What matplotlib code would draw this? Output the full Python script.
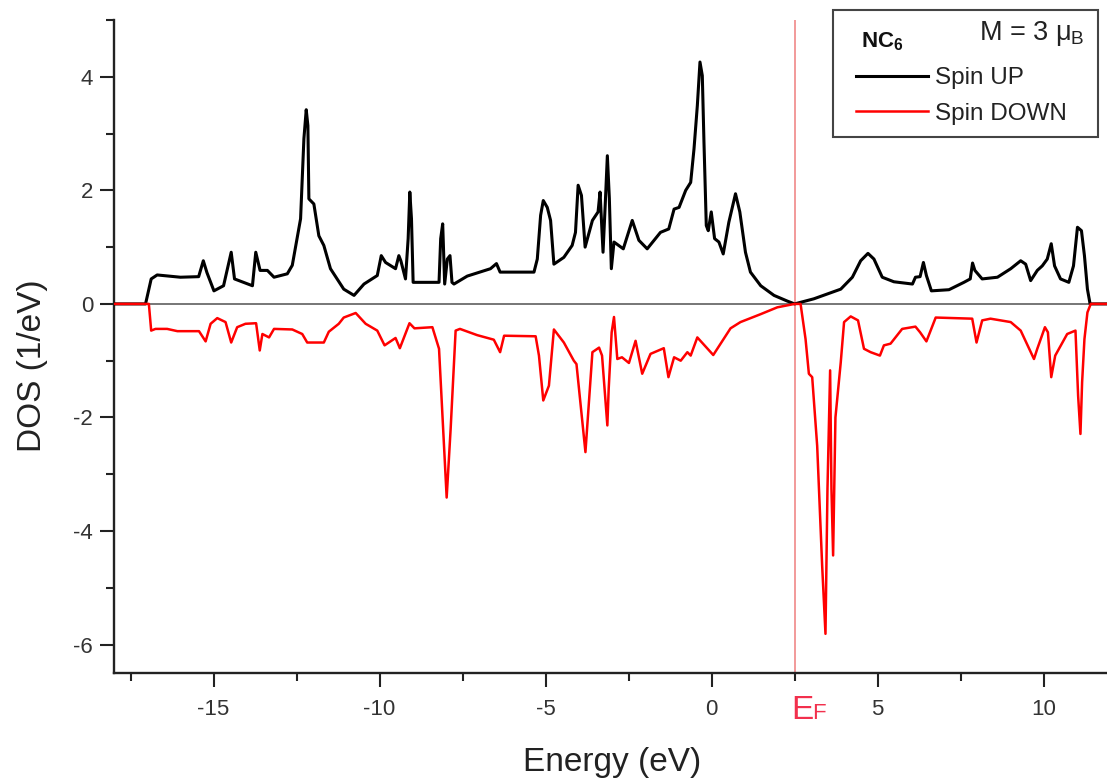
import matplotlib
matplotlib.use("Agg")
import matplotlib.pyplot as plt
from matplotlib.patches import Rectangle
from matplotlib.ticker import MultipleLocator
import matplotlib.transforms as mtransforms

plt.rcParams["font.family"] = ["Liberation Sans", "DejaVu Sans"]
plt.rcParams["mathtext.fontset"] = "custom"
plt.rcParams["mathtext.rm"] = "Liberation Sans"
plt.rcParams["mathtext.it"] = "Liberation Sans"
plt.rcParams["mathtext.bf"] = "Liberation Sans:bold"

# Spin-resolved density of states of NC6 (energies in eV, DOS in 1/eV)
e_up = [-18.0, -17.05, -16.88, -16.7, -16.0, -15.45, -15.31, -15.2, -14.99, -14.7,
        -14.47, -14.37, -13.83, -13.73, -13.6, -13.38, -13.18, -12.78, -12.63, -12.38,
        -12.28, -12.21, -12.16, -12.13, -11.98, -11.83, -11.68, -11.48, -11.08, -10.77,
        -10.47, -10.07, -9.95, -9.82, -9.52, -9.42, -9.36, -9.22, -9.14, -9.09,
        -9.04, -8.99, -8.21, -8.16, -8.10, -8.04, -7.96, -7.88, -7.82, -7.76,
        -7.36, -6.66, -6.48, -6.37, -5.35, -5.25, -5.15, -5.07, -4.95, -4.85,
        -4.75, -4.45, -4.20, -4.10, -4.02, -3.92, -3.81, -3.59, -3.42, -3.36,
        -3.27, -3.20, -3.14, -3.08, -3.02, -2.94, -2.66, -2.39, -2.19, -1.94,
        -1.54, -1.29, -1.13, -0.98, -0.78, -0.63, -0.53, -0.43, -0.35, -0.28,
        -0.23, -0.16, -0.10, -0.01, 0.09, 0.22, 0.35, 0.52, 0.72, 0.85,
        1.02, 1.17, 1.48, 1.88, 2.28, 2.5, 3.08, 3.89, 4.24, 4.49,
        4.71, 4.89, 5.14, 5.49, 6.05, 6.14, 6.28, 6.38, 6.47, 6.62,
        7.15, 7.60, 7.79, 7.86, 7.93, 8.15, 8.61, 9.01, 9.31, 9.46,
        9.61, 9.81, 9.96, 10.11, 10.23, 10.33, 10.51, 10.76, 10.90, 11.02,
        11.14, 11.23, 11.32, 11.40, 12.0]
dos_up = [0.0, 0.0, 0.44, 0.51, 0.47, 0.48, 0.76, 0.55, 0.23, 0.32,
          0.91, 0.44, 0.32, 0.91, 0.59, 0.59, 0.47, 0.53, 0.68, 1.50,
          2.91, 3.42, 3.14, 1.85, 1.76, 1.20, 1.03, 0.62, 0.26, 0.15,
          0.35, 0.50, 0.85, 0.73, 0.62, 0.85, 0.76, 0.44, 1.15, 1.97,
          1.50, 0.38, 0.38, 1.15, 1.41, 0.35, 0.79, 0.85, 0.38, 0.35,
          0.49, 0.62, 0.71, 0.56, 0.56, 0.79, 1.56, 1.82, 1.70, 1.47,
          0.70, 0.82, 1.03, 1.26, 2.09, 1.91, 1.00, 1.47, 1.62, 1.97,
          0.91, 1.80, 2.61, 1.86, 0.62, 1.09, 0.97, 1.47, 1.12, 0.97,
          1.26, 1.32, 1.67, 1.70, 2.00, 2.14, 2.73, 3.49, 4.26, 4.02,
          2.85, 1.38, 1.29, 1.62, 1.15, 1.09, 0.88, 1.44, 1.94, 1.62,
          0.91, 0.56, 0.32, 0.15, 0.05, 0.0, 0.09, 0.26, 0.47, 0.76,
          0.89, 0.79, 0.47, 0.39, 0.35, 0.47, 0.48, 0.73, 0.50, 0.23,
          0.25, 0.38, 0.44, 0.72, 0.59, 0.44, 0.47, 0.62, 0.76, 0.70,
          0.41, 0.59, 0.67, 0.79, 1.06, 0.67, 0.44, 0.38, 0.67, 1.35,
          1.29, 0.85, 0.26, 0.0, 0.0]

e_dn = [-18.0, -16.95, -16.88, -16.75, -16.4, -16.09, -15.44, -15.24, -15.09, -14.89,
        -14.64, -14.47, -14.29, -14.04, -13.72, -13.61, -13.53, -13.33, -13.18, -12.63,
        -12.33, -12.18, -11.68, -11.53, -11.23, -11.08, -10.72, -10.42, -10.07, -9.85,
        -9.52, -9.39, -9.10, -8.95, -8.41, -8.21, -7.98, -7.86, -7.71, -7.58,
        -7.06, -6.56, -6.37, -6.25, -5.30, -5.20, -5.07, -4.90, -4.75, -4.45,
        -4.15, -4.07, -3.80, -3.59, -3.39, -3.30, -3.14, -3.10, -3.01, -2.94,
        -2.84, -2.70, -2.49, -2.29, -2.09, -1.84, -1.44, -1.30, -1.13, -0.93,
        -0.73, -0.63, -0.43, 0.05, 0.57, 0.87, 1.48, 1.98, 2.5, 2.68,
        2.83, 2.93, 3.03, 3.18, 3.33, 3.43, 3.49, 3.57, 3.61, 3.66,
        3.73, 3.89, 3.99, 4.19, 4.41, 4.59, 4.79, 5.07, 5.19, 5.39,
        5.74, 6.14, 6.28, 6.47, 6.75, 7.85, 7.98, 8.15, 8.40, 9.01,
        9.31, 9.71, 9.81, 10.04, 10.13, 10.23, 10.35, 10.71, 10.96, 11.04,
        11.11, 11.16, 11.23, 11.32, 11.42, 12.0]
dos_dn = [0.0, 0.0, -0.47, -0.44, -0.44, -0.48, -0.48, -0.66, -0.35, -0.25,
          -0.32, -0.68, -0.41, -0.35, -0.34, -0.82, -0.53, -0.59, -0.44, -0.45,
          -0.53, -0.68, -0.68, -0.49, -0.35, -0.24, -0.16, -0.35, -0.47, -0.73,
          -0.60, -0.78, -0.34, -0.43, -0.41, -0.79, -3.41, -2.20, -0.47, -0.44,
          -0.55, -0.63, -0.85, -0.56, -0.57, -0.91, -1.70, -1.44, -0.45, -0.68,
          -1.00, -1.06, -2.61, -0.85, -0.77, -0.91, -2.14, -1.50, -0.50, -0.23,
          -0.97, -0.94, -1.04, -0.65, -1.23, -0.88, -0.78, -1.29, -0.94, -1.00,
          -0.85, -0.91, -0.59, -0.90, -0.43, -0.32, -0.18, -0.06, 0.0, 0.0,
          -0.62, -1.23, -1.29, -2.50, -4.61, -5.81, -3.26, -1.17, -3.26, -4.43,
          -2.00, -1.03, -0.32, -0.22, -0.29, -0.79, -0.85, -0.91, -0.73, -0.70,
          -0.44, -0.40, -0.50, -0.66, -0.24, -0.26, -0.68, -0.29, -0.26, -0.32,
          -0.47, -0.97, -0.79, -0.41, -0.50, -1.29, -0.91, -0.53, -0.47, -1.62,
          -2.29, -1.38, -0.62, -0.15, 0.0, 0.0]

fermi_energy = 2.5
moment_text = r"M = 3 $\mu_\mathrm{B}$"
system_text = r"$\mathbf{NC_6}$"

W, H = 1107, 778
fig = plt.figure(figsize=(W / 100, H / 100), dpi=100)
ax_left, ax_right, ax_bottom, ax_top = 114, 1110, 673, 20
ax = fig.add_axes([ax_left / W, 1 - ax_bottom / H,
                   (ax_right - ax_left) / W, (ax_bottom - ax_top) / H])

ax.axhline(0, color="#6b6b6b", lw=1.3, zorder=1)
ax.axvline(fermi_energy, color="#f29a9a", lw=1.4, zorder=1)
line_up, = ax.plot(e_up, dos_up, color="black", lw=2.2, zorder=3)
line_dn, = ax.plot(e_dn, dos_dn, color="#ff0000", lw=1.8, zorder=4)

ax.set_xlim(-18, 12)
ax.set_ylim(-6.5, 5)

for side in ("top", "right"):
    ax.spines[side].set_visible(False)
for side in ("left", "bottom"):
    ax.spines[side].set_linewidth(1.7)
    ax.spines[side].set_color("#222222")

ax.xaxis.set_major_locator(MultipleLocator(5))
ax.xaxis.set_minor_locator(MultipleLocator(2.5))
ax.yaxis.set_major_locator(MultipleLocator(2))
ax.yaxis.set_minor_locator(MultipleLocator(1))
ax.tick_params(which="major", direction="out", length=10, width=1.5,
               color="#222222", labelsize=16, labelcolor="#333333")
ax.tick_params(which="minor", direction="out", length=6, width=1.5,
               color="#222222")
ax.tick_params(axis="x", which="major", pad=9)
ax.tick_params(axis="y", which="major", pad=5)
ax.set_xticklabels([f"{int(v)}" for v in ax.get_xticks()])
ax.set_yticklabels([f"{int(v)}" for v in ax.get_yticks()])

ax.set_xlabel("Energy (eV)", fontsize=24, color="#222222")
ax.xaxis.set_label_coords(0.5, -0.114)
ax.set_ylabel("DOS (1/eV)", fontsize=24, color="#222222")
ax.yaxis.set_label_coords(-0.066, 0.47)

# Fermi level label below the axis
base = mtransforms.blended_transform_factory(ax.transData, ax.transAxes)
ef_color = "#f2304d"
ax.text(fermi_energy, -0.0705,
        "E", transform=mtransforms.offset_copy(base, fig=fig, x=-3, y=0, units="dots"),
        fontsize=24, color=ef_color, ha="left", va="baseline", clip_on=False)
ax.text(fermi_energy, -0.0705,
        "F", transform=mtransforms.offset_copy(base, fig=fig, x=18, y=0, units="dots"),
        fontsize=16, color=ef_color, ha="left", va="baseline", clip_on=False)

# Legend box with the system name and magnetic moment
box_l, box_r, box_t, box_b = 833, 1098, 10, 137
fig.add_artist(Rectangle((box_l / W, 1 - box_b / H), (box_r - box_l) / W,
                         (box_b - box_t) / H, transform=fig.transFigure,
                         facecolor="white", edgecolor="#444444", lw=1.5, zorder=3))
fig.text(861 / W, 1 - 47 / H, system_text, fontsize=16, color="#111111",
         ha="left", va="baseline", zorder=6)
fig.text(979 / W, 1 - 40 / H, moment_text, fontsize=19.5, color="#222222",
         ha="left", va="baseline", zorder=6)
fig.legend([line_up, line_dn], ["Spin UP", "Spin DOWN"],
           loc="upper left", bbox_to_anchor=(856 / W, 1 - 67 / H),
           frameon=False, fontsize=17.5, handlelength=2.95, handletextpad=0.3,
           labelspacing=0.57, borderpad=0, borderaxespad=0,
           labelcolor="#222222").set_zorder(6)

fig.savefig("out.png", dpi=100)
